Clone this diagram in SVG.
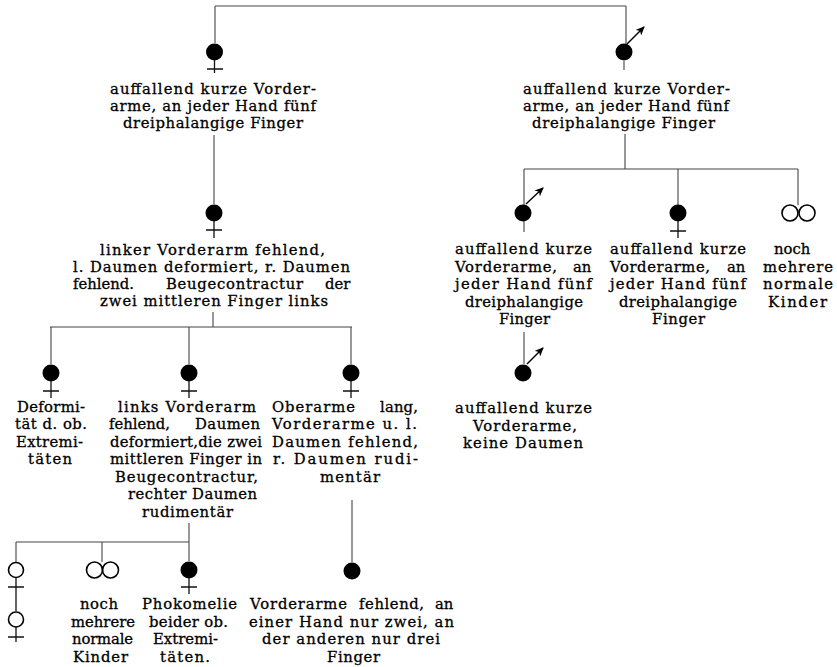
<svg xmlns="http://www.w3.org/2000/svg" width="837" height="667" viewBox="0 0 837 667">
<style>
  .t { font-family: "DejaVu Serif", "Liberation Serif", serif; font-size: 14.8px; fill: #000; stroke: #000; stroke-width: 0.3; }
  .ln { stroke: #444; stroke-width: 1.1; fill: none; }
  .sym { stroke: #111; stroke-width: 1.3; fill: none; }
  .dot { fill: #000; }
  .ring { fill: none; stroke: #000; stroke-width: 1.6; }
  .arr { stroke: #000; stroke-width: 1.4; fill: none; marker-end: url(#head); }
</style>
<defs>
  <marker id="head" markerUnits="userSpaceOnUse" markerWidth="10" markerHeight="8" refX="8" refY="4" orient="auto">
    <path d="M0,0 L9,4 L0,8 L2.5,4 z" fill="#000"/>
  </marker>
</defs>
<rect width="837" height="667" fill="#fff"/>

<!-- pedigree lines -->
<g id="connectors">
  <path class="ln" d="M215,6 H626"/>
  <path class="ln" d="M215,6 V43"/>
  <path class="ln" d="M626,6 V44"/>
  <path class="ln" d="M624,61 V70"/>
  <path class="ln" d="M214,135 V204"/>
  <path class="ln" d="M625,134 V169"/>
  <path class="ln" d="M524,169 H798"/>
  <path class="ln" d="M524,169 V205"/>
  <path class="ln" d="M678,169 V205"/>
  <path class="ln" d="M798,169 V205"/>
  <path class="ln" d="M524,221 V232"/>
  <path class="ln" d="M524,332 V364"/>
  <path class="ln" d="M213,312 V327"/>
  <path class="ln" d="M50,327 H352"/>
  <path class="ln" d="M51,327 V364"/>
  <path class="ln" d="M189,327 V364"/>
  <path class="ln" d="M351,327 V364"/>
  <path class="ln" d="M189,523 V561"/>
  <path class="ln" d="M16,542 H189"/>
  <path class="ln" d="M16,542 V562"/>
  <path class="ln" d="M102,542 V562"/>
  <path class="ln" d="M352,500 V562"/>
</g>

<!-- generation II -->
<g id="daughter-1">
  <circle class="dot" cx="214.5" cy="52" r="8.5"/>
  <path class="sym" d="M214.5,60 V73 M207,69 H223"/>
  <text class="t" x="110" y="94" textLength="206" lengthAdjust="spacing">auffallend kurze Vorder-</text>
  <text class="t" x="110" y="111" textLength="206" lengthAdjust="spacing">arme, an jeder Hand fünf</text>
  <text class="t" x="123" y="128" textLength="180" lengthAdjust="spacing">dreiphalangige Finger</text>
</g>
<g id="son-1">
  <circle class="dot" cx="624" cy="52" r="8.5"/>
  <path class="arr" d="M627,44 L644,27"/>
  <text class="t" x="523" y="94" textLength="207" lengthAdjust="spacing">auffallend kurze Vorder-</text>
  <text class="t" x="523" y="111" textLength="206" lengthAdjust="spacing">arme, an jeder Hand fünf</text>
  <text class="t" x="532" y="128" textLength="183" lengthAdjust="spacing">dreiphalangige Finger</text>
</g>

<!-- generation III, left -->
<g id="daughter-2">
  <circle class="dot" cx="214" cy="213" r="8.5"/>
  <path class="sym" d="M214,221 V238 M206,230 H222"/>
  <text class="t" x="100" y="255" textLength="225" lengthAdjust="spacing">linker Vorderarm fehlend,</text>
  <text class="t" x="73" y="272" textLength="277" lengthAdjust="spacing">l. Daumen deformiert, r. Daumen</text>
  <text class="t" y="289"><tspan x="73">fehlend.</tspan><tspan x="166" textLength="137" lengthAdjust="spacing">Beugecontractur</tspan><tspan x="325">der</tspan></text>
  <text class="t" x="100" y="306" textLength="228" lengthAdjust="spacing">zwei mittleren Finger links</text>
</g>

<!-- generation III, right -->
<g id="son-2">
  <circle class="dot" cx="523" cy="213" r="8.5"/>
  <path class="arr" d="M526,204 L543,188"/>
  <text class="t" x="455" y="254" textLength="137" lengthAdjust="spacing">auffallend kurze</text>
  <text class="t" y="272"><tspan x="455" textLength="102" lengthAdjust="spacing">Vorderarme,</tspan><tspan x="573">an</tspan></text>
  <text class="t" x="455" y="289" textLength="137" lengthAdjust="spacing">jeder Hand fünf</text>
  <text class="t" x="465" y="307" textLength="118" lengthAdjust="spacing">dreiphalangige</text>
  <text class="t" x="499" y="324" textLength="51" lengthAdjust="spacing">Finger</text>
</g>
<g id="daughter-3">
  <circle class="dot" cx="678" cy="213" r="8.5"/>
  <path class="sym" d="M678,221 V238 M670,231 H686"/>
  <text class="t" x="610" y="254" textLength="136" lengthAdjust="spacing">auffallend kurze</text>
  <text class="t" y="272"><tspan x="610" textLength="100" lengthAdjust="spacing">Vorderarme,</tspan><tspan x="727">an</tspan></text>
  <text class="t" x="610" y="289" textLength="136" lengthAdjust="spacing">jeder Hand fünf</text>
  <text class="t" x="619" y="307" textLength="118" lengthAdjust="spacing">dreiphalangige</text>
  <text class="t" x="652" y="324" textLength="53" lengthAdjust="spacing">Finger</text>
</g>
<g id="normal-children-1">
  <circle class="ring" cx="790" cy="213" r="8"/>
  <circle class="ring" cx="807" cy="213" r="8"/>
  <text class="t" x="774" y="254">noch</text>
  <text class="t" x="763" y="272" textLength="70" lengthAdjust="spacing">mehrere</text>
  <text class="t" x="763" y="289" textLength="70" lengthAdjust="spacing">normale</text>
  <text class="t" x="768" y="307" textLength="59" lengthAdjust="spacing">Kinder</text>
</g>

<!-- generation IV, right -->
<g id="son-3">
  <circle class="dot" cx="523" cy="373" r="8.5"/>
  <path class="arr" d="M527,364 L543,348"/>
  <text class="t" x="455" y="413" textLength="137" lengthAdjust="spacing">auffallend kurze</text>
  <text class="t" x="473" y="431" textLength="104" lengthAdjust="spacing">Vorderarme,</text>
  <text class="t" x="463" y="448" textLength="120" lengthAdjust="spacing">keine Daumen</text>
</g>

<!-- generation IV, left -->
<g id="daughter-4">
  <circle class="dot" cx="51" cy="373" r="8.5"/>
  <path class="sym" d="M51,381 V398 M43,391 H59"/>
  <text class="t" x="17" y="412" textLength="68" lengthAdjust="spacing">Deformi-</text>
  <text class="t" x="15" y="429" textLength="72" lengthAdjust="spacing">tät d. ob.</text>
  <text class="t" x="16" y="447" textLength="67" lengthAdjust="spacing">Extremi-</text>
  <text class="t" x="28" y="464" textLength="44" lengthAdjust="spacing">täten</text>
</g>
<g id="daughter-5">
  <circle class="dot" cx="189" cy="373" r="8.5"/>
  <path class="sym" d="M189,381 V398 M181,391 H197"/>
  <text class="t" x="118" y="412" textLength="138" lengthAdjust="spacing">links Vorderarm</text>
  <text class="t" y="429"><tspan x="109">fehlend,</tspan><tspan x="195" textLength="65" lengthAdjust="spacing">Daumen</tspan></text>
  <text class="t" x="110" y="447" textLength="152" lengthAdjust="spacing">deformiert,die zwei</text>
  <text class="t" x="110" y="464" textLength="152" lengthAdjust="spacing">mittleren Finger in</text>
  <text class="t" x="115" y="482" textLength="143" lengthAdjust="spacing">Beugecontractur,</text>
  <text class="t" x="128" y="499" textLength="129" lengthAdjust="spacing">rechter Daumen</text>
  <text class="t" x="142" y="517" textLength="91" lengthAdjust="spacing">rudimentär</text>
</g>
<g id="daughter-6">
  <circle class="dot" cx="351" cy="373" r="8.5"/>
  <path class="sym" d="M351,381 V398 M343,391 H359"/>
  <text class="t" y="412"><tspan x="272" textLength="83" lengthAdjust="spacing">Oberarme</tspan><tspan x="380" textLength="38" lengthAdjust="spacing">lang,</tspan></text>
  <text class="t" x="272" y="429" textLength="145" lengthAdjust="spacing">Vorderarme u. l.</text>
  <text class="t" x="272" y="447" textLength="146" lengthAdjust="spacing">Daumen fehlend,</text>
  <text class="t" x="273" y="464" textLength="145" lengthAdjust="spacing">r. Daumen rudi-</text>
  <text class="t" x="320" y="482" textLength="60" lengthAdjust="spacing">mentär</text>
</g>

<!-- generation V -->
<g id="daughters-7-8">
  <circle class="ring" cx="16" cy="570" r="7.5"/>
  <path class="sym" d="M16,578 V611 M8,587 H24"/>
  <circle class="ring" cx="16" cy="619.5" r="7.5"/>
  <path class="sym" d="M16,627 V642 M8,637 H24"/>
</g>
<g id="normal-children-2">
  <circle class="ring" cx="94.5" cy="570" r="8"/>
  <circle class="ring" cx="110.5" cy="570" r="8"/>
  <text class="t" x="80" y="609" textLength="38" lengthAdjust="spacing">noch</text>
  <text class="t" x="71" y="627">mehrere</text>
  <text class="t" x="72" y="644" textLength="61" lengthAdjust="spacing">normale</text>
  <text class="t" x="73" y="662" textLength="55" lengthAdjust="spacing">Kinder</text>
</g>
<g id="daughter-9">
  <circle class="dot" cx="189" cy="570" r="8.5"/>
  <path class="sym" d="M189,578 V594 M181,587 H197"/>
  <text class="t" x="142" y="609" textLength="95" lengthAdjust="spacing">Phokomelie</text>
  <text class="t" x="149" y="627" textLength="79" lengthAdjust="spacing">beider ob.</text>
  <text class="t" x="153" y="644" textLength="65" lengthAdjust="spacing">Extremi-</text>
  <text class="t" x="160" y="662" textLength="50" lengthAdjust="spacing">täten.</text>
</g>
<g id="child-10">
  <circle class="dot" cx="352" cy="571" r="8.5"/>
  <text class="t" y="609"><tspan x="250" textLength="97" lengthAdjust="spacing">Vorderarme</tspan><tspan x="359" textLength="65" lengthAdjust="spacing">fehlend,</tspan><tspan x="435">an</tspan></text>
  <text class="t" x="249" y="627" textLength="205" lengthAdjust="spacing">einer Hand nur zwei, an</text>
  <text class="t" x="262" y="644" textLength="178" lengthAdjust="spacing">der anderen nur drei</text>
  <text class="t" x="327" y="662" textLength="53" lengthAdjust="spacing">Finger</text>
</g>
</svg>
